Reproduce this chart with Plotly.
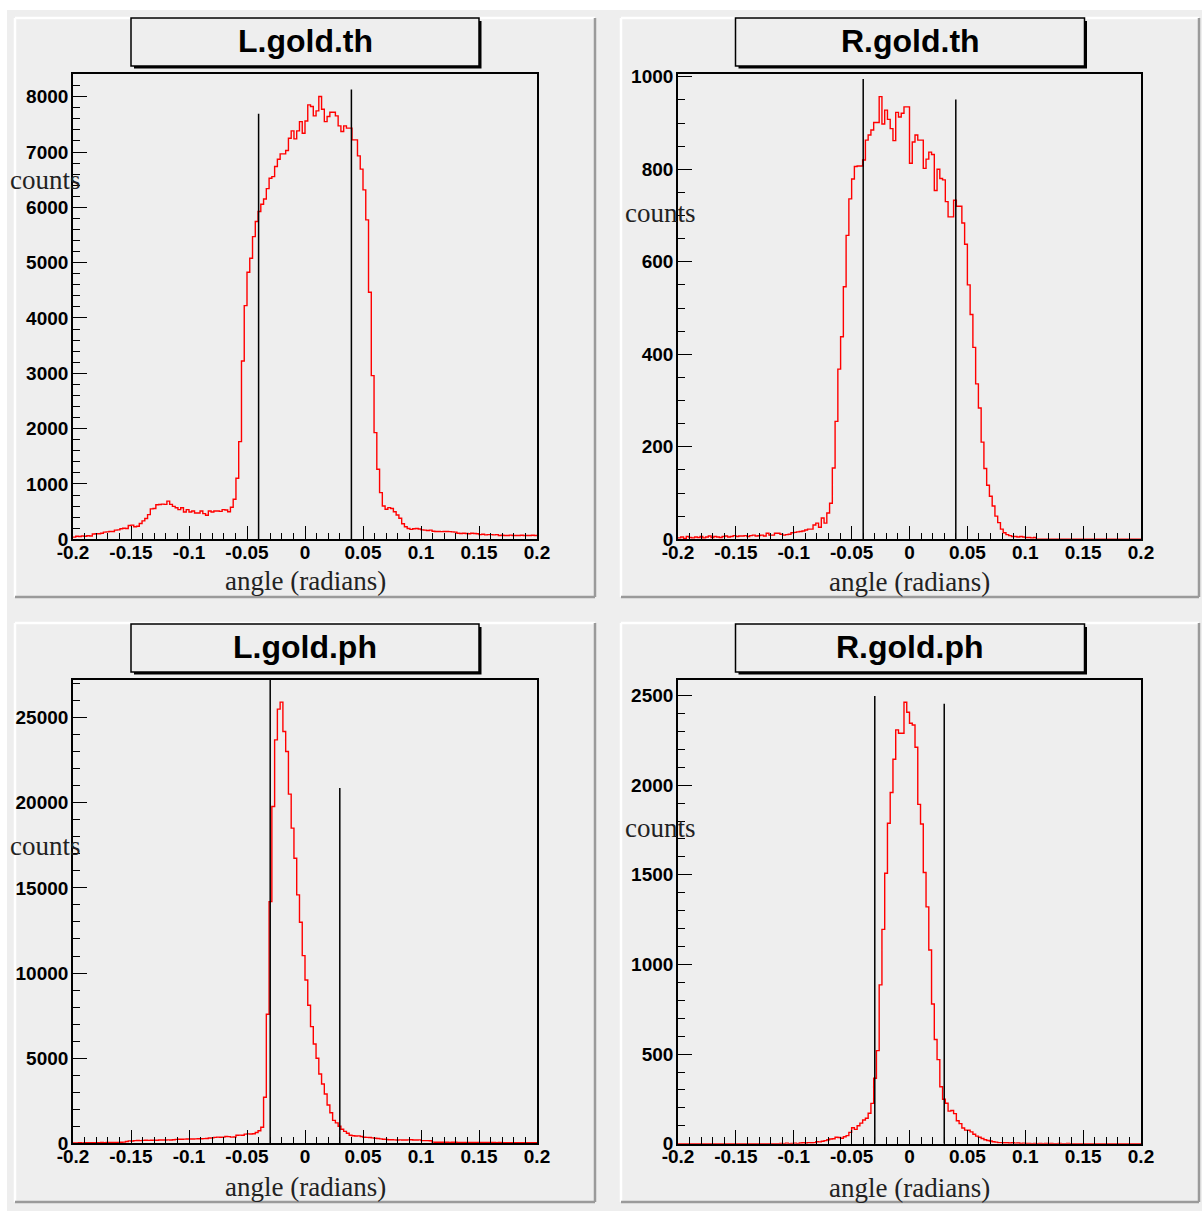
import plotly.graph_objects as go

# ---------------------------------------------------------------------------
# Data: gold-foil angle histograms (counts per bin), 168 bins on [-0.2, 0.2]
# ---------------------------------------------------------------------------
N_BINS = 168
X_MIN, X_MAX = -0.2, 0.2

L_GOLD_TH = [
    40, 55, 50, 60, 55, 65, 60, 95, 100, 100,
    110, 130, 135, 140, 140, 165, 170, 190, 200, 196,
    250, 256, 226, 235, 286, 333, 375, 446, 550, 558,
    625, 630, 635, 631, 690, 631, 595, 571, 536, 571,
    494, 536, 494, 512, 476, 476, 512, 464, 435, 512,
    494, 512, 512, 505, 536, 530, 499, 578, 723, 1103,
    1765, 3224, 4224, 4827, 5080, 5471, 5743, 5924, 6057, 6150,
    6339, 6527, 6556, 6737, 6870, 6966, 6966, 7026, 7250, 7382,
    7237, 7382, 7550, 7340, 7560, 7852, 7822, 7653, 7744, 8003,
    7774, 7550, 7641, 7720, 7720, 7653, 7473, 7370, 7473, 7431,
    7431, 7220, 7220, 6930, 6690, 6315, 5773, 4466, 2958, 1928,
    1266, 843, 602, 542, 572, 557, 499, 440, 380, 280,
    226, 196, 179, 190, 195, 185, 170, 165, 160, 165,
    145, 140, 140, 138, 140, 142, 138, 135, 130, 110,
    105, 108, 105, 100, 110, 105, 100, 85, 90, 80,
    85, 85, 80, 85, 70, 72, 68, 70, 75, 70,
    68, 70, 72, 70, 68, 70, 72, 70,
]

R_GOLD_TH = [
    3, 5, 2, 6, 4, 3, 5, 4, 6, 3,
    5, 7, 4, 6, 5, 4, 6, 7, 5, 6,
    8, 6, 7, 7, 8, 6, 8, 9, 7, 8,
    9, 7, 13, 9, 9, 13, 13, 11, 9, 10,
    11, 14, 15, 16, 17, 18, 20, 22, 22, 31,
    35, 26, 46, 35, 57, 78, 154, 255, 368, 438,
    546, 657, 736, 779, 806, 807, 807, 820, 863, 874,
    885, 901, 901, 957, 898, 928, 908, 888, 862, 923,
    913, 921, 935, 935, 813, 859, 874, 863, 863, 802,
    822, 837, 832, 754, 800, 780, 777, 730, 697, 697,
    733, 720, 720, 684, 638, 550, 486, 415, 336, 284,
    210, 153, 117, 93, 72, 50, 36, 22, 14, 10,
    8, 6, 6, 5, 6, 5, 4, 4, 3, 4,
    0, 0, 0, 0, 0, 0, 0, 0, 0, 0,
    0, 0, 0, 0, 0, 0, 0, 0, 0, 0,
    0, 0, 0, 0, 0, 0, 0, 0, 0, 0,
    0, 0, 0, 0, 0, 0, 0, 0,
]

L_GOLD_PH = [
    20, 25, 30, 25, 35, 30, 35, 40, 35, 40,
    45, 40, 45, 50, 45, 55, 50, 60, 70, 110,
    140, 135, 160, 165, 160, 170, 175, 170, 180, 185,
    180, 190, 195, 190, 200, 195, 205, 230, 235, 240,
    245, 250, 255, 250, 260, 265, 270, 275, 280, 315,
    320, 350, 360, 355, 365, 395, 390, 360, 370, 470,
    480, 475, 540, 555, 550, 560, 630, 740, 940, 2703,
    7579, 14196, 19777, 23696, 25499, 25909, 24184, 23008, 20505, 18508,
    16745, 14589, 12985, 11022, 9595, 8108, 6851, 5834, 4994, 4072,
    3484, 2897, 2250, 1798, 1344, 1200, 1000, 822, 700, 590,
    474, 440, 430, 435, 400, 356, 350, 340, 316, 300,
    280, 260, 240, 230, 210, 205, 200, 195, 200, 198,
    195, 200, 205, 198, 195, 200, 160, 155, 160, 150,
    70, 65, 60, 62, 58, 60, 55, 60, 58, 55,
    57, 55, 52, 55, 50, 52, 50, 48, 50, 47,
    45, 48, 45, 42, 45, 40, 42, 40, 38, 40,
    36, 38, 35, 36, 34, 35, 33, 32,
]

R_GOLD_PH = [
    0, 0, 0, 0, 0, 0, 0, 0, 0, 0,
    0, 0, 0, 0, 0, 0, 0, 0, 0, 0,
    0, 0, 0, 0, 0, 0, 0, 0, 0, 0,
    0, 0, 0, 0, 0, 0, 0, 2, 0, 3,
    0, 2, 3, 0, 4, 5, 4, 6, 5, 6,
    11, 10, 14, 17, 22, 26, 28, 36, 35, 30,
    39, 45, 63, 89, 80, 100, 115, 132, 142, 170,
    225, 365, 519, 886, 1196, 1509, 1788, 1959, 2145, 2309,
    2290, 2290, 2463, 2407, 2346, 2336, 2212, 1893, 1784, 1513,
    1321, 1081, 779, 581, 469, 318, 248, 226, 182, 185,
    168, 128, 112, 88, 76, 75, 66, 53, 42, 36,
    29, 22, 18, 15, 11, 9, 6, 6, 5, 5,
    4, 5, 3, 4, 2, 3, 1, 2, 0, 2,
    0, 1, 0, 2, 0, 1, 0, 0, 2, 0,
    0, 1, 0, 0, 0, 0, 0, 0, 0, 0,
    0, 0, 0, 0, 0, 0, 0, 0, 0, 0,
    0, 0, 0, 0, 0, 0, 0, 0,
]

PANEL_TITLES = ["L.gold.th", "R.gold.th", "L.gold.ph", "R.gold.ph"]
PANEL_COUNTS = [L_GOLD_TH, R_GOLD_TH, L_GOLD_PH, R_GOLD_PH]

# cut positions (radians) and the height each cut line is drawn to (counts)
CUT_X = [[-0.04, 0.04], [-0.04, 0.04], [-0.03, 0.03], [-0.03, 0.03]]
CUT_TOP = [[7690, 8130], [995, 951], [27210, 20860], [2498, 2455]]

Y_MAX = [8410, 1006, 27210, 2587]
Y_MAJOR = [1000, 200, 5000, 500]
Y_MINOR = [200, 50, 1000, 100]

X_TICK_VALS = [-0.2, -0.15, -0.1, -0.05, 0, 0.05, 0.1, 0.15, 0.2]
X_TICK_TEXT = ["-0.2", "-0.15", "-0.1", "-0.05", "0", "0.05", "0.1", "0.15", "0.2"]

X_TITLE = "angle (radians)"
Y_TITLE = "counts"

# ---------------------------------------------------------------------------
# Canvas geometry (pixels, origin top-left)
# ---------------------------------------------------------------------------
W, H = 1202, 1211
PADS = [(15, 18, 595, 597), (621, 18, 1199, 597),
        (15, 623, 595, 1202), (621, 623, 1199, 1202)]
FRAMES = [(73, 74, 537, 539.3), (678, 74, 1141, 539.3),
          (73, 680, 537, 1143.3), (678, 680, 1141, 1143.7)]
TITLE_BOXES = [(131, 18, 479, 66), (735.5, 18, 1084.5, 66),
               (131, 624, 479, 672), (735.5, 624, 1084.5, 672)]
YLABEL_POS = [(45, 180), (660, 213), (45, 846), (660, 828)]
XLABEL_Y = [581, 582, 1187, 1188]

CANVAS_GREY = "#eeeeee"


def px(x):
    return x / W


def py(y):
    return 1 - y / H


fig = go.Figure()
shapes = []
annotations = []

# canvas grey area
shapes.append(dict(type="rect", xref="paper", yref="paper", layer="below",
                   x0=px(7), x1=px(W), y0=py(10), y1=py(H),
                   fillcolor=CANVAS_GREY, line=dict(width=0)))

edges = [X_MIN + (X_MAX - X_MIN) * i / N_BINS for i in range(N_BINS + 1)]

for i in range(4):
    n = "" if i == 0 else str(i + 1)
    xa, ya = "x" + n, "y" + n

    # pad with raised bevel
    x0, y0, x1, y1 = PADS[i]
    shapes.append(dict(type="rect", xref="paper", yref="paper", layer="below",
                       x0=px(x0), x1=px(x1), y0=py(y1), y1=py(y0),
                       fillcolor=CANVAS_GREY, line=dict(width=0)))
    for (ax0, ay0, ax1, ay1, col) in [
        (x0, y0, x1, y0, "#ffffff"), (x0, y0, x0, y1, "#ffffff"),
        (x0, y1, x1, y1, "#9a9a9a"), (x1, y0, x1, y1, "#9a9a9a"),
    ]:
        shapes.append(dict(type="line", xref="paper", yref="paper", layer="below",
                           x0=px(ax0), x1=px(ax1), y0=py(ay0), y1=py(ay1),
                           line=dict(color=col, width=2.5)))

    # title box with shadow
    bx0, by0, bx1, by1 = TITLE_BOXES[i]
    shapes.append(dict(type="rect", xref="paper", yref="paper", layer="above",
                       x0=px(bx0 + 3), x1=px(bx1 + 2.5), y0=py(by1 + 2.5), y1=py(by0 + 3),
                       fillcolor="black", line=dict(width=0)))
    shapes.append(dict(type="rect", xref="paper", yref="paper", layer="above",
                       x0=px(bx0), x1=px(bx1), y0=py(by1), y1=py(by0),
                       fillcolor=CANVAS_GREY, line=dict(color="black", width=1.5)))
    annotations.append(dict(xref="paper", yref="paper", x=px((bx0 + bx1) / 2),
                            y=py((by0 + by1) / 2 - 1), text="<b>%s</b>" % PANEL_TITLES[i],
                            showarrow=False, xanchor="center", yanchor="middle",
                            font=dict(family="Liberation Sans", size=32, color="black")))

    fx0, fy0, fx1, fy1 = FRAMES[i]
    # axis labels
    annotations.append(dict(xref="paper", yref="paper", x=px((fx0 + fx1) / 2),
                            y=py(XLABEL_Y[i]), text=X_TITLE, showarrow=False,
                            xanchor="center", yanchor="middle",
                            font=dict(family="Liberation Serif", size=27, color="#222222")))
    lx, ly = YLABEL_POS[i]
    annotations.append(dict(xref="paper", yref="paper", x=px(lx), y=py(ly),
                            text=Y_TITLE, showarrow=False,
                            xanchor="center", yanchor="middle",
                            font=dict(family="Liberation Serif", size=27, color="#222222")))

    counts = PANEL_COUNTS[i]
    fig.add_trace(go.Scatter(x=edges, y=list(counts) + [counts[-1]],
                             mode="lines", line=dict(color="#ff0000", width=1.4, shape="hv"),
                             xaxis=xa, yaxis=ya, showlegend=False, hoverinfo="skip"))
    for cx, ctop in zip(CUT_X[i], CUT_TOP[i]):
        fig.add_trace(go.Scatter(x=[cx, cx], y=[0, ctop], mode="lines",
                                 line=dict(color="black", width=1.5),
                                 xaxis=xa, yaxis=ya, showlegend=False, hoverinfo="skip"))

    tickfont = dict(family="Liberation Sans", size=19, color="black", weight="bold")
    fig.layout["xaxis" + n] = dict(
        domain=[px(fx0), px(fx1)], anchor=ya, range=[X_MIN, X_MAX],
        automargin=False,
        showline=True, linecolor="black", linewidth=1.6, mirror=True,
        showgrid=False, zeroline=False,
        ticks="inside", ticklen=14, tickwidth=1.4, tickcolor="black",
        tickmode="array", tickvals=X_TICK_VALS, ticktext=X_TICK_TEXT,
        tickfont=tickfont, ticklabelstandoff=-5,
        minor=dict(tickmode="linear", tick0=0, dtick=0.01, ticks="inside",
                   ticklen=7, tickwidth=1.4, tickcolor="black", showgrid=False),
    )
    fig.layout["yaxis" + n] = dict(
        domain=[py(fy1), py(fy0)], anchor=xa, range=[0, Y_MAX[i]],
        automargin=False,
        showline=True, linecolor="black", linewidth=1.6, mirror=True,
        showgrid=False, zeroline=False,
        ticks="inside", ticklen=14, tickwidth=1.4, tickcolor="black",
        tickmode="linear", tick0=0, dtick=Y_MAJOR[i], tickformat="d",
        tickfont=tickfont, ticklabelstandoff=-1,
        minor=dict(tickmode="linear", tick0=0, dtick=Y_MINOR[i], ticks="inside",
                   ticklen=7, tickwidth=1.4, tickcolor="black", showgrid=False),
    )

fig.update_layout(
    template="none",
    width=W, height=H, autosize=False,
    margin=dict(l=0, r=0, t=0, b=0, pad=0, autoexpand=False),
    paper_bgcolor="white", plot_bgcolor="rgba(0,0,0,0)",
    shapes=shapes, annotations=annotations, showlegend=False,
)

# page body without default margins so the figure fills the window exactly
fig.write_html(
    "out.html",
    post_script="document.body.style.margin='0';document.body.style.overflow='hidden';",
)
